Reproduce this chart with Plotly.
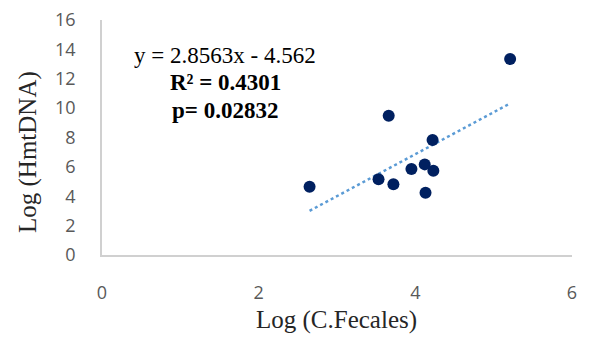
import plotly.graph_objects as go

x_vals = [2.65, 3.53, 3.66, 3.72, 3.95, 4.12, 4.13, 4.22, 4.23, 5.21]
y_vals = [4.65, 5.15, 9.48, 4.81, 5.85, 6.17, 4.24, 7.83, 5.74, 13.34]
slope = 2.8563
intercept = -4.562
eq_lines = ["y = 2.8563x - 4.562", "<b>R² = 0.4301</b>", "<b>p= 0.02832</b>"]
x_title = "Log (C.Fecales)"
y_title = "Log (HmtDNA)"

x0, x1 = min(x_vals), max(x_vals)
trend_x = [x0, x1]
trend_y = [slope * v + intercept for v in trend_x]

W, H = 589, 337
L, R, T, B = 102, 17, 20, 82
pw, ph = W - L - R, H - T - B


def px2paper(px, py):
    return (px - L) / pw, 1 - (py - T) / ph


fig = go.Figure()
fig.add_trace(go.Scatter(x=trend_x, y=trend_y, mode="lines",
                         line=dict(color="#5b9bd5", width=2.5, dash="dot"),
                         hoverinfo="skip", showlegend=False))
fig.add_trace(go.Scatter(x=x_vals, y=y_vals, mode="markers",
                         marker=dict(color="#002060", size=12),
                         showlegend=False))

serif = "Liberation Serif, Times New Roman, serif"
for i, t in enumerate(eq_lines):
    ax, ay = px2paper(225, 55 + 27.5 * i)
    fig.add_annotation(x=ax, y=ay, xref="paper", yref="paper", xanchor="center", yanchor="middle",
                       text=t, showarrow=False, font=dict(family=serif, size=23, color="black"))

ax, ay = px2paper(336, 320)
fig.add_annotation(x=ax, y=ay, xref="paper", yref="paper", xanchor="center", yanchor="middle",
                   text=x_title, showarrow=False, font=dict(family=serif, size=25, color="#262626"))
ax, ay = px2paper(28, 152)
fig.add_annotation(x=ax, y=ay, xref="paper", yref="paper", xanchor="center", yanchor="middle",
                   text=y_title, showarrow=False, textangle=-90,
                   font=dict(family=serif, size=25, color="#262626"))

tickfont = dict(family="Open Sans, Liberation Sans, sans-serif", size=18, color="#595959")
fig.update_layout(
    width=W, height=H,
    margin=dict(l=L, r=R, t=T, b=B),
    paper_bgcolor="white", plot_bgcolor="white",
    xaxis=dict(range=[0, 6], tickvals=[0, 2, 4, 6], showgrid=False, zeroline=False,
               showline=True, linecolor="#d0d0d0", linewidth=1.5, automargin=False,
               tickfont=tickfont, ticks="", ticklabelstandoff=21),
    yaxis=dict(range=[0, 16], tickvals=list(range(0, 17, 2)), showgrid=False, zeroline=False,
               showline=True, linecolor="#d0d0d0", linewidth=1.5, automargin=False,
               tickfont=tickfont, ticks="", ticklabelstandoff=21),
)

fig.write_html("out.html", config={"displayModeBar": False},
               post_script="document.body.style.margin='0';document.body.style.overflow='hidden';")
